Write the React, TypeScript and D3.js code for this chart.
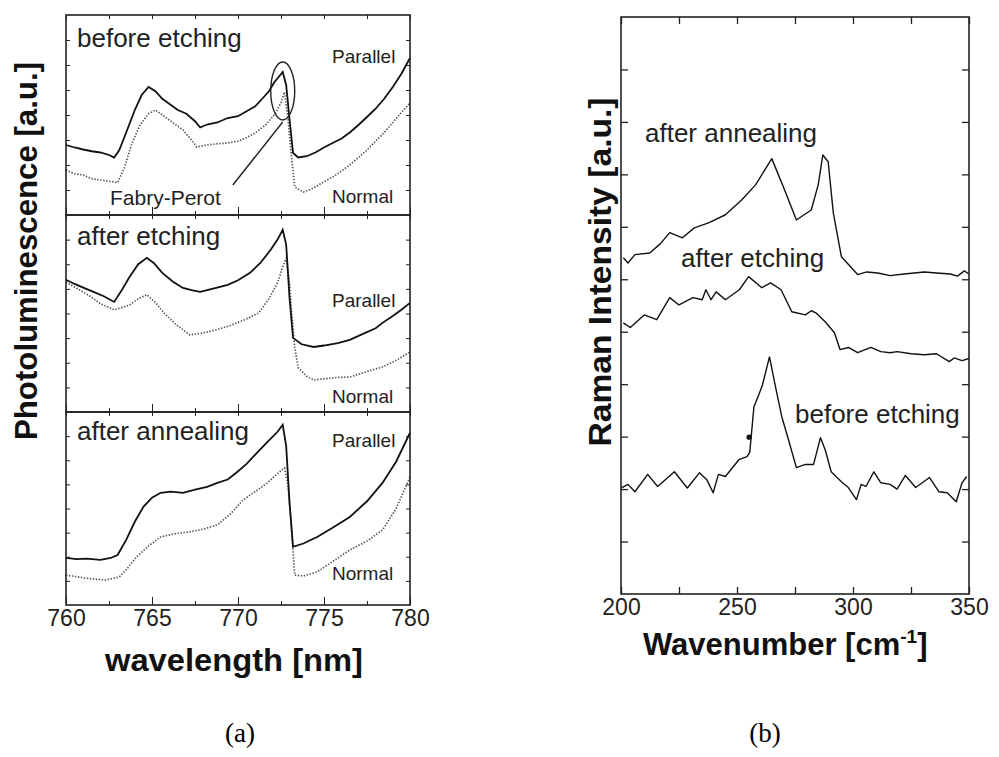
import React, { useEffect, useRef } from 'react';
import * as d3 from 'd3';

// ---- tick values ----
const wlTicks = [760, 765, 770, 775, 780];
const wlMinor = [762.5, 767.5, 772.5, 777.5];
const wnTicks = [200, 250, 300, 350];
const wnMinor = [225, 275, 325];
const plYTicks = [1, 2, 3, 4, 5, 6, 7];
const ramanYTicks = [1, 2, 3, 4, 5, 6, 7, 8, 9, 10];

// ---- (a) photoluminescence, [wavelength nm, a.u.] ----
const beforeParallel = [
  [760, 2.8], [760.5, 2.7], [761, 2.62], [761.5, 2.55], [762, 2.5], [762.5, 2.4], [762.8, 2.3],
  [763.1, 2.6], [763.5, 3.3], [764, 4.2], [764.4, 4.8], [764.8, 5.12], [765.2, 4.95], [765.6, 4.65],
  [766, 4.45], [766.5, 4.2], [767, 4.05], [767.5, 3.75], [767.8, 3.5], [768.2, 3.62], [768.8, 3.7],
  [769.4, 3.88], [770, 3.95], [770.5, 4.15], [771, 4.35], [771.5, 4.72], [771.8, 4.95], [772.1, 5.3],
  [772.4, 5.55], [772.6, 5.72], [772.8, 5.2], [773.0, 3.8], [773.2, 2.48], [773.5, 2.3], [774, 2.35],
  [774.5, 2.5], [775, 2.7], [775.5, 2.88], [776, 3.05], [776.5, 3.3], [777, 3.6], [777.5, 3.92],
  [778, 4.25], [778.5, 4.65], [779, 5.12], [779.5, 5.65], [780, 6.28],
];
const beforeNormal = [
  [760, 1.8], [760.5, 1.65], [761, 1.6], [761.5, 1.45], [762, 1.4], [762.5, 1.35], [763, 1.3],
  [763.4, 1.9], [763.8, 2.8], [764.3, 3.6], [764.8, 4.05], [765.2, 4.2], [765.7, 3.95], [766.2, 3.7],
  [766.8, 3.4], [767.3, 3.0], [767.6, 2.72], [768.2, 2.8], [768.8, 2.85], [769.4, 2.88], [770, 2.95],
  [770.5, 3.1], [771, 3.28], [771.6, 3.6], [772.2, 4.08], [772.5, 4.5], [772.7, 4.92], [772.9, 3.9],
  [773.1, 2.4], [773.3, 1.12], [773.8, 0.92], [774.3, 1.05], [774.8, 1.25], [775.5, 1.52], [776, 1.75],
  [776.5, 2.0], [777, 2.3], [777.5, 2.6], [778, 2.95], [778.5, 3.3], [779, 3.7], [779.5, 4.1], [780, 4.48],
];
const etchParallel = [
  [760, 5.37], [760.5, 5.2], [761, 5.05], [761.6, 4.88], [762.2, 4.7], [762.8, 4.47], [763.2, 4.9],
  [763.7, 5.49], [764.2, 6.0], [764.7, 6.26], [765.1, 6.05], [765.6, 5.65], [766.2, 5.3], [766.8, 5.04],
  [767.3, 4.95], [767.8, 4.88], [768.5, 5.0], [769.4, 5.16], [770, 5.35], [770.7, 5.65], [771.3, 6.05],
  [771.9, 6.59], [772.3, 7.0], [772.6, 7.4], [772.8, 6.8], [773.0, 4.6], [773.2, 3.01], [773.7, 2.75],
  [774.4, 2.64], [775, 2.7], [775.8, 2.8], [776.5, 2.93], [777.2, 3.15], [778, 3.4], [778.4, 3.62],
  [779, 3.9], [779.5, 4.15], [780, 4.43],
];
const etchNormal = [
  [760, 5.28], [760.7, 5.0], [761.4, 4.7], [762, 4.4], [762.8, 4.15], [763.3, 4.25], [763.7, 4.35],
  [764.2, 4.6], [764.7, 4.76], [765.2, 4.45], [765.7, 4.02], [766.4, 3.55], [767.2, 3.13], [767.9, 3.2],
  [768.7, 3.33], [769.5, 3.5], [770.4, 3.75], [771.2, 4.02], [771.8, 4.6], [772.3, 5.24], [772.6, 5.9],
  [772.8, 6.26], [773.0, 5.2], [773.1, 4.15], [773.3, 2.6], [773.5, 1.8], [774, 1.45], [774.4, 1.3],
  [775, 1.35], [775.7, 1.4], [776.5, 1.42], [777.3, 1.6], [778.4, 1.83], [779.2, 2.1], [780, 2.44],
];
const annealParallel = [
  [760, 1.95], [760.6, 1.9], [761.2, 1.92], [762, 1.87], [762.6, 1.95], [763, 2.07], [763.5, 2.7],
  [764, 3.45], [764.5, 4.07], [765, 4.45], [765.5, 4.65], [766.1, 4.7], [766.8, 4.65], [767.5, 4.78],
  [768.2, 4.9], [768.8, 5.06], [769.4, 5.2], [769.9, 5.48], [770.5, 5.85], [771.1, 6.31], [771.7, 6.75],
  [772.3, 7.18], [772.6, 7.47], [772.8, 6.6], [773.0, 4.2], [773.2, 2.41], [773.8, 2.55], [774.6, 2.82],
  [775.5, 3.2], [776.5, 3.65], [777.5, 4.3], [778.4, 5.06], [779.2, 5.95], [780, 7.14],
];
const annealNormal = [
  [760, 1.24], [760.8, 1.15], [761.5, 1.08], [762.3, 1.04], [763.1, 1.16], [763.6, 1.55], [764.1, 1.99],
  [764.8, 2.45], [765.5, 2.82], [766.3, 2.95], [767.2, 3.03], [768, 3.15], [768.8, 3.32], [769.6, 3.8],
  [770.3, 4.36], [771, 4.7], [771.7, 5.06], [772.3, 5.45], [772.7, 5.68], [772.9, 5.0], [773.1, 3.3],
  [773.3, 1.24], [773.8, 1.2], [774.6, 1.37], [775.5, 1.8], [776.5, 2.28], [777.5, 2.65], [778.4, 3.11],
  [779.2, 4.0], [780, 5.31],
];

// ---- (b) Raman, [wavenumber cm-1, a.u.] ----
const ramanAnneal = [
  [201, 6.41], [203, 6.31], [206, 6.47], [212.4, 6.5], [217, 6.68], [221, 6.89], [226.5, 6.79],
  [231.6, 6.98], [238, 7.08], [245, 7.23], [252, 7.51], [258, 7.8], [265, 8.3], [271, 7.65],
  [275.6, 7.13], [282, 7.32], [285, 7.8], [287, 8.37], [289.3, 8.24], [291.5, 7.27], [295, 6.43],
  [302, 6.09], [306, 6.14], [310.7, 6.12], [316, 6.07], [322, 6.1], [330.8, 6.14], [336, 6.12],
  [342, 6.1], [345, 6.06], [348, 6.16], [350, 6.1],
];
const ramanEtch = [
  [201, 5.17], [204, 5.08], [210, 5.32], [215.4, 5.23], [221, 5.65], [225, 5.51], [231, 5.65],
  [235, 5.61], [236.6, 5.8], [238.8, 5.61], [241, 5.76], [245, 5.61], [251, 5.8], [255, 6.05],
  [260.7, 5.84], [264.5, 5.93], [269, 5.8], [273.6, 5.38], [279.5, 5.32], [282, 5.4], [284, 5.36],
  [288, 5.19], [292, 4.98], [294.4, 4.66], [298, 4.7], [302, 4.6], [307.7, 4.7], [312, 4.62],
  [316, 4.6], [319, 4.62], [325, 4.58], [330.8, 4.56], [336, 4.58], [341.5, 4.43], [343.6, 4.5],
  [347, 4.45], [350, 4.49],
];
const ramanBefore = [
  [200, 2.02], [203, 2.09], [206, 1.95], [211.5, 2.28], [215.8, 2.05], [223, 2.33], [228.6, 2.02],
  [233.8, 2.31], [237, 2.18], [239.7, 1.93], [242, 2.28], [245, 2.24], [250.8, 2.56], [254.3, 2.62],
  [255.5, 2.7], [257.3, 3.57], [259.4, 3.8], [261, 3.99], [264, 4.52], [266.6, 3.95], [269.3, 3.38],
  [272.2, 2.94], [275.6, 2.41], [279.5, 2.47], [283, 2.47], [286, 2.98], [288, 2.75], [290.6, 2.33],
  [295, 2.14], [298, 2.03], [301.5, 1.8], [303.5, 2.09], [305.6, 2.05], [309, 2.33], [312, 2.12],
  [316, 2.09], [319, 2.0], [322.6, 2.26], [327, 2.03], [333, 2.22], [337, 1.95], [340.6, 1.93],
  [344.5, 1.76], [347, 2.12], [349, 2.24],
];
const ramanSpeck = [255.2, 2.99];

const plPanels = [
  { label: 'before etching', parallel: beforeParallel, normal: beforeNormal },
  { label: 'after etching', parallel: etchParallel, normal: etchNormal },
  { label: 'after annealing', parallel: annealParallel, normal: annealNormal },
];
const ramanSeries = [ramanAnneal, ramanEtch, ramanBefore];
const ramanLabels = ['after annealing', 'after etching', 'before etching'];

const SANS = '"Liberation Sans", Arial, Helvetica, sans-serif';

const App = () => {
  const svgRef = useRef(null);

  useEffect(() => {
    const svg = d3.select(svgRef.current);
    svg.selectAll('*').remove();

    // ================= (a) =================
    const aLeft = 66, aRight = 410;
    const bands = [[15, 215], [215, 412], [412, 605]];
    const x = d3.scaleLinear().domain([760, 780]).range([aLeft, aRight]);
    const labelPos = [
      { t: 47, p: 63, n: 203 },
      { t: 245, p: 307, n: 403 },
      { t: 440, p: 447, n: 580 },
    ];

    plPanels.forEach((panel, i) => {
      const [top, bottom] = bands[i];
      const y = d3.scaleLinear().domain([0, 8]).range([bottom, top]);
      const g = svg.append('g');

      // ticks
      g.append('g').attr('transform', `translate(0,${bottom})`)
        .call(d3.axisBottom(x).tickValues(wlTicks).tickSize(-8).tickSizeOuter(0).tickFormat(() => ''));
      g.append('g').attr('transform', `translate(0,${bottom})`)
        .call(d3.axisBottom(x).tickValues(wlMinor).tickSize(-4).tickSizeOuter(0).tickFormat(() => ''));
      g.append('g').attr('transform', `translate(0,${top})`)
        .call(d3.axisTop(x).tickValues(wlTicks.concat(wlMinor)).tickSize(-4).tickSizeOuter(0).tickFormat(() => ''));
      g.append('g').attr('transform', `translate(${aLeft},0)`)
        .call(d3.axisLeft(y).tickValues(plYTicks).tickSize(-4).tickSizeOuter(0).tickFormat(() => ''));
      g.append('g').attr('transform', `translate(${aRight},0)`)
        .call(d3.axisRight(y).tickValues(plYTicks).tickSize(-4).tickSizeOuter(0).tickFormat(() => ''));
      g.selectAll('.domain').remove();
      g.selectAll('.tick line').attr('stroke', '#222').attr('stroke-width', 1);

      const line = d3.line().x(d => x(d[0])).y(d => y(d[1])).curve(d3.curveLinear);
      g.append('path').datum(panel.normal).attr('d', line)
        .attr('fill', 'none').attr('stroke', '#555').attr('stroke-width', 1.7)
        .attr('stroke-dasharray', '1.4 1.6');
      g.append('path').datum(panel.parallel).attr('d', line)
        .attr('fill', 'none').attr('stroke', '#111').attr('stroke-width', 1.8);

      g.append('rect').attr('x', aLeft).attr('y', top).attr('width', aRight - aLeft)
        .attr('height', bottom - top).attr('fill', 'none').attr('stroke', '#222').attr('stroke-width', 1.6);

      const lp = labelPos[i];
      g.append('text').attr('x', 77).attr('y', lp.t).text(panel.label)
        .attr('font-family', SANS).attr('font-size', 26).attr('fill', '#222');
      g.append('text').attr('x', 332).attr('y', lp.p).text('Parallel')
        .attr('font-family', SANS).attr('font-size', 19).attr('fill', '#222');
      g.append('text').attr('x', 332).attr('y', lp.n).text('Normal')
        .attr('font-family', SANS).attr('font-size', 19).attr('fill', '#222');

      if (i === 0) {
        g.append('ellipse').attr('cx', x(772.6)).attr('cy', y(4.96)).attr('rx', 12).attr('ry', 29)
          .attr('fill', 'none').attr('stroke', '#222').attr('stroke-width', 1.4);
        g.append('line').attr('x1', x(769.7)).attr('y1', y(1.2)).attr('x2', x(772.6)).attr('y2', y(3.72))
          .attr('stroke', '#222').attr('stroke-width', 1.4);
        g.append('text').attr('x', 110).attr('y', 205).text('Fabry-Perot')
          .attr('font-family', SANS).attr('font-size', 21).attr('fill', '#222');
      }
    });

    // x tick labels (a)
    const xa = svg.append('g').attr('transform', `translate(0,605)`)
      .call(d3.axisBottom(x).tickValues(wlTicks).tickSize(0).tickPadding(5).tickFormat(d3.format('d')));
    xa.select('.domain').remove();
    xa.selectAll('text').attr('font-family', SANS).attr('font-size', 23).attr('fill', '#222');

    svg.append('text').attr('transform', 'translate(37,251) rotate(-90)')
      .attr('text-anchor', 'middle').attr('font-family', SANS).attr('font-weight', 'bold')
      .attr('font-size', 31).attr('textLength', 378).attr('lengthAdjust', 'spacingAndGlyphs')
      .attr('fill', '#111').text('Photoluminescence [a.u.]');
    svg.append('text').attr('x', 234).attr('y', 671).attr('text-anchor', 'middle')
      .attr('font-family', SANS).attr('font-weight', 'bold').attr('font-size', 31)
      .attr('textLength', 258).attr('lengthAdjust', 'spacingAndGlyphs')
      .attr('fill', '#111').text('wavelength [nm]');

    // ================= (b) =================
    const bLeft = 621, bRight = 969, bTop = 17, bBottom = 594;
    const xb = d3.scaleLinear().domain([200, 350]).range([bLeft, bRight]);
    const yb = d3.scaleLinear().domain([0, 11]).range([bBottom, bTop]);
    const gb = svg.append('g');

    gb.append('g').attr('transform', `translate(0,${bBottom})`)
      .call(d3.axisBottom(xb).tickValues(wnTicks.concat(wnMinor)).tickSize(-7).tickSizeOuter(0).tickFormat(() => ''));
    gb.append('g').attr('transform', `translate(0,${bTop})`)
      .call(d3.axisTop(xb).tickValues(wnTicks.concat(wnMinor)).tickSize(-7).tickSizeOuter(0).tickFormat(() => ''));
    gb.append('g').attr('transform', `translate(${bLeft},0)`)
      .call(d3.axisLeft(yb).tickValues(ramanYTicks).tickSize(-7).tickSizeOuter(0).tickFormat(() => ''));
    gb.append('g').attr('transform', `translate(${bRight},0)`)
      .call(d3.axisRight(yb).tickValues(ramanYTicks).tickSize(-7).tickSizeOuter(0).tickFormat(() => ''));
    gb.selectAll('.domain').remove();
    gb.selectAll('.tick line').attr('stroke', '#222').attr('stroke-width', 1.3);

    const lineB = d3.line().x(d => xb(d[0])).y(d => yb(d[1]));
    ramanSeries.forEach(s => {
      gb.append('path').datum(s).attr('d', lineB).attr('fill', 'none')
        .attr('stroke', '#111').attr('stroke-width', 1.4).attr('stroke-linejoin', 'round');
    });
    gb.append('circle').attr('cx', xb(ramanSpeck[0])).attr('cy', yb(ramanSpeck[1])).attr('r', 2.6).attr('fill', '#111');

    gb.append('rect').attr('x', bLeft).attr('y', bTop).attr('width', bRight - bLeft)
      .attr('height', bBottom - bTop).attr('fill', 'none').attr('stroke', '#222').attr('stroke-width', 1.6);

    const rlPos = [[645, 142], [681, 267], [795, 423]];
    ramanLabels.forEach((t, i) => {
      gb.append('text').attr('x', rlPos[i][0]).attr('y', rlPos[i][1]).text(t)
        .attr('font-family', SANS).attr('font-size', 26).attr('fill', '#222');
    });

    const xbA = svg.append('g').attr('transform', `translate(0,${bBottom})`)
      .call(d3.axisBottom(xb).tickValues(wnTicks).tickSize(0).tickPadding(5).tickFormat(d3.format('d')));
    xbA.select('.domain').remove();
    xbA.selectAll('text').attr('font-family', SANS).attr('font-size', 23).attr('fill', '#222');

    svg.append('text').attr('transform', 'translate(611,272) rotate(-90)')
      .attr('text-anchor', 'middle').attr('font-family', SANS).attr('font-weight', 'bold')
      .attr('font-size', 31).attr('textLength', 349).attr('lengthAdjust', 'spacingAndGlyphs')
      .attr('fill', '#111').text('Raman Intensity [a.u.]');

    const wt = svg.append('text').attr('x', 643).attr('y', 655)
      .attr('font-family', SANS).attr('font-weight', 'bold').attr('font-size', 31).attr('fill', '#111');
    wt.append('tspan').text('Wavenumber [cm');
    wt.append('tspan').attr('font-size', 19).attr('dy', -12).text('-1');
    wt.append('tspan').attr('dy', 12).text(']');

    // panel captions
    svg.append('text').attr('x', 240).attr('y', 742).attr('text-anchor', 'middle')
      .attr('font-family', '"Liberation Serif", "Times New Roman", serif').attr('font-size', 27).text('(a)');
    svg.append('text').attr('x', 765).attr('y', 742).attr('text-anchor', 'middle')
      .attr('font-family', '"Liberation Serif", "Times New Roman", serif').attr('font-size', 27).text('(b)');
  }, []);

  return (
    <svg ref={svgRef} width={999} height={757}
      style={{ position: 'absolute', left: 0, top: 0, background: '#fff' }} />
  );
};

export default App;
